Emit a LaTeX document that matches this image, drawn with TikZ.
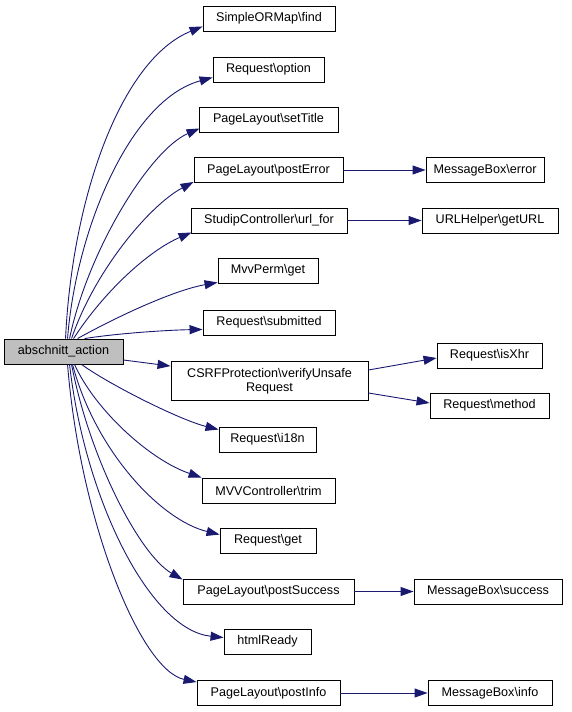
\documentclass[tikz,border=0pt]{standalone}
\usepackage{fontspec}
\setmainfont{Liberation Sans}
\usetikzlibrary{arrows.meta,calc}
\definecolor{edgecol}{HTML}{191970}
\definecolor{srcfill}{HTML}{BFBFBF}
\begin{document}
\begin{tikzpicture}[x=1pt,y=-1pt,
  box/.style={draw=black,line width=0.9pt,fill=white,minimum height=25pt,inner sep=0pt,
    font=\fontsize{12.6}{14.5}\selectfont,align=center},
  call/.style={draw=edgecol,line width=0.9pt,-{Triangle[length=13pt,width=9pt]}}]
\useasboundingbox (0,0) rectangle (571,712);
% nodes
\node[box,fill=srcfill,minimum width=119pt] (src) at (63.5,351.5) {abschnitt\_action};
\node[box,minimum width=132pt] (find) at (269,18.5) {SimpleORMap\textbackslash find};
\node[box,minimum width=111pt] (option) at (268.5,69.5) {Request\textbackslash option};
\node[box,minimum width=139pt] (setTitle) at (268.5,119.5) {PageLayout\textbackslash setTitle};
\node[box,minimum width=149pt] (postError) at (268.5,170) {PageLayout\textbackslash postError};
\node[box,minimum width=118pt] (error) at (485,170) {MessageBox\textbackslash error};
\node[box,minimum width=156pt] (urlfor) at (269,220.5) {StudipController\textbackslash url\_for};
\node[box,minimum width=136pt] (getURL) at (490,220.5) {URLHelper\textbackslash getURL};
\node[box,minimum width=100pt] (mvvperm) at (268,270.5) {MvvPerm\textbackslash get};
\node[box,minimum width=132pt] (submitted) at (269,322.5) {Request\textbackslash submitted};
\node[box,minimum width=197pt,minimum height=39pt] (csrf) at (269.5,381) {CSRFProtection\textbackslash verifyUnsafe\\Request};
\node[box,minimum width=105pt] (isXhr) at (489.5,355.5) {Request\textbackslash isXhr};
\node[box,minimum width=119pt] (method) at (489.5,405.5) {Request\textbackslash method};
\node[box,minimum width=97pt] (i18n) at (267.5,439.5) {Request\textbackslash i18n};
\node[box,minimum width=133pt] (trim) at (268.5,490.5) {MVVController\textbackslash trim};
\node[box,minimum width=96pt] (rget) at (268,540.5) {Request\textbackslash get};
\node[box,minimum width=171pt] (postSuccess) at (268.5,591.5) {PageLayout\textbackslash postSuccess};
\node[box,minimum width=148pt] (success) at (488,591.5) {MessageBox\textbackslash success};
\node[box,minimum width=87pt] (htmlReady) at (267.5,641.5) {htmlReady};
\node[box,minimum width=143pt] (postInfo) at (268.5,693) {PageLayout\textbackslash postInfo};
\node[box,minimum width=124pt] (info) at (490,693) {MessageBox\textbackslash info};
% edges from source (upper)
\draw[call] ($(src.north west)+(62,0)$) .. controls (72,200) and (120,60) .. ($(find.south west)+(0,-5)$);
\draw[call] ($(src.north west)+(64,0)$) .. controls (76,230) and (130,100) .. ($(option.south west)+(0,-5)$);
\draw[call] ($(src.north west)+(66,0)$) .. controls (88,250) and (150,150) .. ($(setTitle.south west)+(1,-4)$);
\draw[call] ($(src.north west)+(68,0)$) .. controls (95,270) and (150,205) .. ($(postError.south west)+(0,-1)$);
\draw[call] ($(src.north west)+(70,0)$) .. controls (105,290) and (150,250) .. ($(urlfor.south west)+(1,-1)$);
\draw[call] ($(src.north west)+(74,0)$) .. controls (120,315) and (175,290) .. ($(mvvperm.south west)+(0,-1)$);
\draw[call] ($(src.north west)+(81,0)$) .. controls (120,333) and (170,330) .. ($(submitted.south west)+(0,-6)$);
\draw[call] ($(src.east)+(0,8.5)$) -- ($(csrf.north west)+(0,5)$);
% edges from source (lower)
\draw[call] ($(src.south west)+(78,0)$) .. controls (110,385) and (180,420) .. ($(i18n.north west)+(0,3)$);
\draw[call] ($(src.south west)+(71,0)$) .. controls (95,410) and (150,460) .. ($(trim.north west)+(0,0)$);
\draw[call] ($(src.south west)+(69,0)$) .. controls (95,450) and (160,520) .. ($(rget.north west)+(0,7)$);
\draw[call] ($(src.south west)+(68,0)$) .. controls (90,460) and (140,555) .. ($(postSuccess.north west)+(0,1)$);
\draw[call] ($(src.south west)+(66,0)$) .. controls (85,500) and (150,630) .. ($(htmlReady.north west)+(0,9)$);
\draw[call] ($(src.south west)+(64,0)$) .. controls (80,520) and (140,670) .. ($(postInfo.north west)+(0,2)$);
% second level
\draw[call] (postError) -- (error);
\draw[call] (urlfor) -- (getURL);
\draw[call] ($(csrf.east)+(0,-11)$) -- ($(isXhr.west)+(0,2.5)$);
\draw[call] ($(csrf.east)+(0,12)$) -- ($(method.west)+(0,-2.5)$);
\draw[call] (postSuccess) -- (success);
\draw[call] (postInfo) -- (info);
\end{tikzpicture}
\end{document}
